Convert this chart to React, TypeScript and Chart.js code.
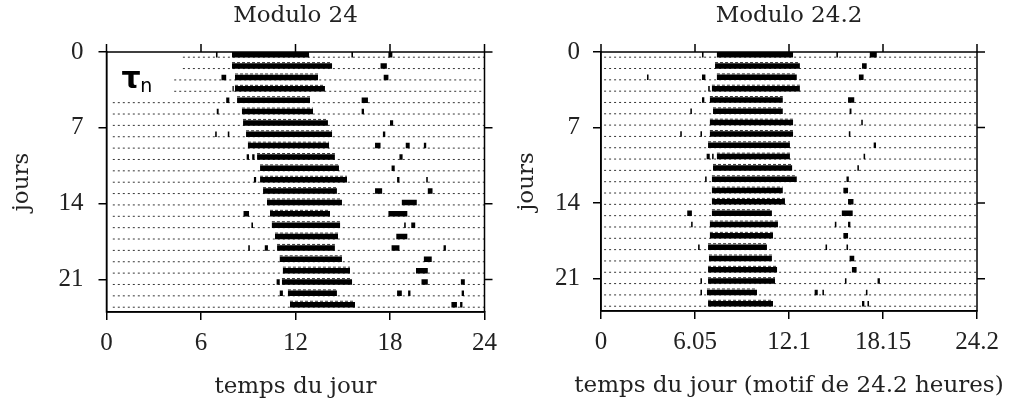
import React, { useEffect, useRef } from "react";
import { Chart, registerables } from "chart.js";

Chart.register(...registerables);

// ---------- data ----------
const ROWS = [0, 1, 2, 3, 4, 5, 6, 7, 8, 9, 10, 11, 12, 13, 14, 15, 16, 17, 18, 19, 20, 21, 22];
const Y_TICKS = [0, 7, 14, 21];
const LEFT_X_TICKS = [0, 6, 12, 18, 24];
const RIGHT_X_TICKS = [0, 6.05, 12.1, 18.15, 24.2];

const LEFT_TITLE = "Modulo 24";
const RIGHT_TITLE = "Modulo 24.2";
const LEFT_X_LABEL = "temps du jour";
const RIGHT_X_LABEL = "temps du jour (motif de 24.2 heures)";
const Y_LABEL = "jours";

// main activity bout per day (hours)
const LEFT_ONSET = [7.97, 7.97, 8.16, 8.16, 8.29, 8.6, 8.67, 8.86, 8.98, 9.56, 9.75, 9.75, 9.94, 10.19, 10.38, 10.5, 10.7, 10.83, 11.0, 11.2, 11.14, 11.52, 11.65];
const LEFT_OFFSET = [12.86, 14.32, 13.43, 13.87, 12.92, 13.11, 14.06, 14.32, 14.13, 14.5, 14.76, 15.27, 14.63, 14.95, 14.19, 14.83, 14.7, 14.5, 14.95, 15.46, 15.59, 14.63, 15.78];
const LEFT_RECORD_START = [4.85, 4.85, 4.3, 4.3, 0.4, 0.4, 0.4, 0.4, 0.4, 0.4, 0.4, 0.4, 0.4, 0.4, 0.4, 0.4, 0.4, 0.4, 0.4, 0.4, 0.4, 0.4, 0.4];
// short bursts: [day, start, end]
const LEFT_BURSTS: [number, number, number][] = [
  [0, 6.95, 7.05], [0, 15.55, 15.65], [0, 17.9, 18.15],
  [1, 17.4, 17.8],
  [2, 7.3, 7.6], [2, 17.6, 17.9],
  [3, 8.0, 8.08],
  [4, 7.6, 7.8], [4, 16.2, 16.6],
  [5, 7.0, 7.12], [5, 16.2, 16.35],
  [6, 18.0, 18.2],
  [7, 6.9, 7.0], [7, 7.7, 7.8], [7, 17.55, 17.7],
  [8, 17.05, 17.4], [8, 19.0, 19.25], [8, 20.15, 20.3],
  [9, 8.9, 9.05], [9, 9.25, 9.4], [9, 18.6, 18.8],
  [10, 18.1, 18.3],
  [11, 9.36, 9.5], [11, 18.45, 18.6], [11, 20.3, 20.4],
  [12, 17.05, 17.5], [12, 20.4, 20.7],
  [13, 18.75, 19.7],
  [14, 8.7, 9.05], [14, 17.9, 19.1],
  [15, 9.2, 9.3], [15, 18.9, 19.0], [15, 19.35, 19.6],
  [16, 18.4, 19.1],
  [17, 9.0, 9.1], [17, 10.05, 10.25], [17, 18.1, 18.6], [17, 21.4, 21.55],
  [18, 20.15, 20.65],
  [19, 19.65, 20.4],
  [20, 10.8, 11.0], [20, 20.0, 20.4], [20, 22.5, 22.75],
  [21, 11.0, 11.2], [21, 18.45, 18.75], [21, 19.15, 19.3], [21, 22.55, 22.7],
  [22, 21.9, 22.25], [22, 22.45, 22.6],
];

const RIGHT_ONSET = [7.46, 7.34, 7.46, 7.14, 7.01, 7.21, 7.01, 7.01, 6.89, 7.46, 7.21, 7.14, 7.14, 7.14, 7.14, 7.01, 7.01, 6.89, 6.95, 6.89, 6.89, 6.82, 6.89];
const RIGHT_OFFSET = [12.36, 12.8, 12.6, 12.8, 11.7, 11.7, 12.36, 12.36, 12.16, 12.16, 12.3, 12.6, 11.7, 11.84, 11.0, 11.39, 11.07, 10.68, 11.0, 11.33, 11.2, 10.04, 11.07];
const RIGHT_RECORD_START = [0.2, 0.2, 0.2, 0.2, 0.2, 0.2, 0.2, 0.2, 0.2, 0.2, 0.2, 0.2, 0.2, 0.2, 0.2, 0.2, 0.2, 0.2, 0.2, 0.2, 0.2, 0.2, 0.2];
const RIGHT_BURSTS: [number, number, number][] = [
  [0, 6.5, 6.6], [0, 15.15, 15.25], [0, 17.3, 17.75],
  [1, 16.8, 17.1],
  [2, 2.96, 3.06], [2, 6.5, 6.72], [2, 16.6, 16.9],
  [3, 6.9, 7.0],
  [4, 6.5, 6.65], [4, 15.9, 16.3],
  [5, 5.75, 5.85], [5, 16.0, 16.12],
  [6, 16.75, 16.85],
  [7, 5.1, 5.2], [7, 6.4, 6.5], [7, 15.95, 16.05],
  [8, 17.55, 17.7],
  [9, 6.8, 7.0], [9, 7.15, 7.25], [9, 16.9, 17.0],
  [10, 16.5, 16.6],
  [11, 6.7, 6.8], [11, 15.8, 15.95],
  [12, 15.6, 15.9],
  [13, 15.9, 16.25],
  [14, 5.55, 5.85], [14, 15.5, 16.2],
  [15, 5.8, 5.9], [15, 15.05, 15.15], [15, 15.9, 16.05],
  [16, 15.6, 15.9],
  [17, 6.25, 6.35], [17, 14.45, 14.55], [17, 15.8, 15.9],
  [18, 16.0, 16.3],
  [19, 16.15, 16.45],
  [20, 6.4, 6.5], [20, 15.7, 15.8], [20, 17.8, 17.95],
  [21, 6.4, 6.5], [21, 13.75, 13.95], [21, 14.25, 14.35], [21, 17.05, 17.15],
  [22, 16.8, 16.95], [22, 17.15, 17.25],
];

// ---------- style constants ----------
const ROW_PITCH = 1.049;
const BAR_OFFSET = 0.25;
const BASE_OFFSET = 0.48;
const FUZZ_OFFSET = -0.07;
const SERIF = "'Liberation Serif', 'Times New Roman', serif";
const TITLE_SERIF = "'DejaVu Serif', 'Liberation Serif', serif";
const TEXT_COLOR = "#222";

type Pt = { x: number; y: number | null };

function segments(list: [number, number, number][], offset: number): Pt[] {
  const pts: Pt[] = [];
  list.forEach(([d, s, e]) => {
    const y = d * ROW_PITCH + offset;
    pts.push({ x: s, y }, { x: e, y }, { x: e, y: null });
  });
  return pts;
}

const framePlugin = {
  id: "frame",
  afterDraw(chart: any, _args: any, opts: any) {
    const { ctx, chartArea: a, scales } = chart;
    ctx.save();
    ctx.strokeStyle = "#000";
    ctx.lineWidth = 1.5;
    ctx.beginPath();
    ctx.rect(a.left, a.top, a.right - a.left, a.bottom - a.top);
    scales.x.ticks.forEach((t: any) => {
      const px = scales.x.getPixelForValue(t.value);
      ctx.moveTo(px, a.top);
      ctx.lineTo(px, a.top - 8);
    });
    scales.y.ticks.forEach((t: any) => {
      const py = scales.y.getPixelForValue(t.value);
      ctx.moveTo(a.right, py);
      ctx.lineTo(a.right + 8, py);
    });
    ctx.stroke();
    // x-axis title (may be wider than the plot area, so drawn unconstrained)
    if (opts && opts.xLabel) {
      ctx.fillStyle = TEXT_COLOR;
      ctx.font = `23px ${TITLE_SERIF}`;
      ctx.textAlign = "center";
      ctx.textBaseline = "middle";
      ctx.fillText(opts.xLabel, (a.left + a.right) / 2, a.bottom + 75);
    }
    if (opts && opts.note) {
      ctx.fillStyle = "#000";
      ctx.textBaseline = "alphabetic";
      ctx.textAlign = "left";
      ctx.font = "bold 30px 'DejaVu Sans'";
      ctx.fillText("τ", scales.x.getPixelForValue(0.95), scales.y.getPixelForValue(3.28));
      ctx.font = "19px 'DejaVu Sans'";
      ctx.fillText("n", scales.x.getPixelForValue(2.15), scales.y.getPixelForValue(3.72));
    }
    ctx.restore();
  },
};

interface PanelSpec {
  title: string;
  xLabel: string;
  xTicks: number[];
  xMax: number;
  onset: number[];
  offset: number[];
  recordStart: number[];
  bursts: [number, number, number][];
  yAxisWidth: number;
  xAxisHeight: number;
  padRight: number;
  yTickPad: number;
  note: boolean;
}

function buildConfig(p: PanelSpec): any {
  const baseList: [number, number, number][] = ROWS.map((d) => [d, p.recordStart[d], p.xMax]);
  const mainList: [number, number, number][] = ROWS.map((d) => [d, p.onset[d], p.offset[d]]);
  const fmt = (v: number) => String(parseFloat(v.toFixed(3)));
  return {
    type: "scatter",
    data: {
      datasets: [
        {
          data: segments(baseList, BASE_OFFSET),
          showLine: true,
          borderColor: "rgba(0,0,0,0.8)",
          borderWidth: 1,
          borderDash: [2, 3],
          borderCapStyle: "butt",
          pointRadius: 0,
          spanGaps: false,
        },
        {
          data: segments(mainList, FUZZ_OFFSET),
          showLine: true,
          borderColor: "rgba(0,0,0,0.8)",
          borderWidth: 1,
          borderDash: [3, 2],
          borderCapStyle: "butt",
          pointRadius: 0,
          spanGaps: false,
        },
        {
          data: segments([...mainList, ...p.bursts], BAR_OFFSET),
          showLine: true,
          borderColor: "#000",
          borderWidth: 5.5,
          borderCapStyle: "butt",
          pointRadius: 0,
          spanGaps: false,
        },
      ],
    },
    options: {
      animation: false,
      responsive: false,
      events: [],
      layout: { padding: { left: 0, right: p.padRight, top: 0, bottom: 0 } },
      plugins: {
        legend: { display: false },
        tooltip: { enabled: false },
        title: {
          display: true,
          text: p.title,
          fullSize: false,
          color: TEXT_COLOR,
          font: { family: TITLE_SERIF, size: 23, weight: "normal", lineHeight: 1.2 },
          padding: { top: 2, bottom: 22.4 },
        },
        frame: { note: p.note, xLabel: p.xLabel },
      },
      scales: {
        x: {
          type: "linear",
          min: 0,
          max: p.xMax,
          afterBuildTicks: (s: any) => {
            s.ticks = p.xTicks.map((v) => ({ value: v }));
          },
          afterFit: (s: any) => {
            s.height = p.xAxisHeight;
          },
          ticks: {
            color: TEXT_COLOR,
            font: { family: SERIF, size: 25 },
            padding: 8,
            maxRotation: 0,
            autoSkip: false,
            callback: (v: number) => fmt(v),
          },
          grid: { drawOnChartArea: false, drawTicks: true, tickLength: 8, color: "#000", lineWidth: 1.5 },
          border: { display: true, color: "#000", width: 1.5 },
          title: { display: false },
        },
        y: {
          type: "linear",
          reverse: true,
          min: 0,
          max: 24,
          afterBuildTicks: (s: any) => {
            s.ticks = Y_TICKS.map((v) => ({ value: v }));
          },
          afterFit: (s: any) => {
            s.width = p.yAxisWidth;
          },
          ticks: {
            color: TEXT_COLOR,
            font: { family: SERIF, size: 25 },
            padding: p.yTickPad,
            callback: (v: number) => fmt(v),
          },
          grid: { drawOnChartArea: false, drawTicks: true, tickLength: 8, color: "#000", lineWidth: 1.5 },
          border: { display: true, color: "#000", width: 1.5 },
          title: {
            display: true,
            text: Y_LABEL,
            color: TEXT_COLOR,
            font: { family: TITLE_SERIF, size: 23, lineHeight: 1.2 },
            padding: { top: 8, bottom: 0 },
          },
        },
      },
    },
    plugins: [framePlugin],
  };
}

const LEFT_SPEC: PanelSpec = {
  title: LEFT_TITLE,
  xLabel: LEFT_X_LABEL,
  xTicks: LEFT_X_TICKS,
  xMax: 24,
  onset: LEFT_ONSET,
  offset: LEFT_OFFSET,
  recordStart: LEFT_RECORD_START,
  bursts: LEFT_BURSTS,
  yAxisWidth: 106.5,
  xAxisHeight: 91,
  padRight: 20,
  yTickPad: 15,
  note: true,
};

const RIGHT_SPEC: PanelSpec = {
  title: RIGHT_TITLE,
  xLabel: RIGHT_X_LABEL,
  xTicks: RIGHT_X_TICKS,
  xMax: 24.2,
  onset: RIGHT_ONSET,
  offset: RIGHT_OFFSET,
  recordStart: RIGHT_RECORD_START,
  bursts: RIGHT_BURSTS,
  yAxisWidth: 96,
  xAxisHeight: 92,
  padRight: 34,
  yTickPad: 13,
  note: false,
};

function Panel({ spec, width, left }: { spec: PanelSpec; width: number; left: number }) {
  const ref = useRef<HTMLCanvasElement | null>(null);
  useEffect(() => {
    if (!ref.current) return;
    const chart = new Chart(ref.current, buildConfig(spec));
    return () => chart.destroy();
  }, [spec]);
  return (
    <canvas
      ref={ref}
      width={width}
      height={403}
      style={{ position: "absolute", left, top: 0, width, height: 403 }}
    />
  );
}

export default function App() {
  return (
    <div style={{ position: "absolute", left: 0, top: 0, width: 1011, height: 403, background: "#fff", overflow: "hidden" }}>
      <Panel spec={LEFT_SPEC} width={505} left={0} />
      <Panel spec={RIGHT_SPEC} width={506} left={505} />
    </div>
  );
}
